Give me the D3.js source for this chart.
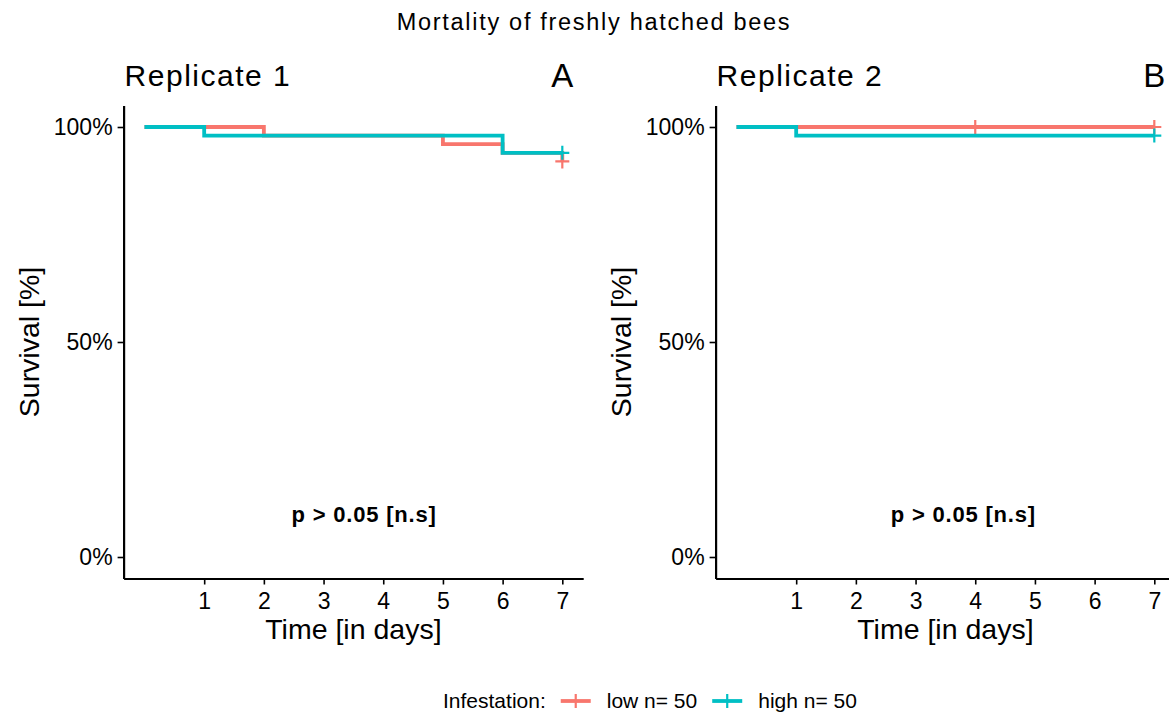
<!DOCTYPE html>
<html><head><meta charset="utf-8">
<script src="https://cdn.jsdelivr.net/npm/d3@7"></script>
<style>body{margin:0;background:#fff}svg{display:block;font-family:"Liberation Sans",Arial,sans-serif}</style>
</head><body><svg id="c" width="1169" height="713"></svg>
<script>
// ---- data ----
const chartTitle = "Mortality of freshly hatched bees";
const panelTitles = ["Replicate 1", "Replicate 2"];
const panelTags = ["A", "B"];
const dayTicks = [1, 2, 3, 4, 5, 6, 7];
const survTicks = [0, 50, 100];
const groups = ["low", "high"];
const groupLabels = ["low n= 50", "high n= 50"];
const groupColors = ["#F8766D", "#00BFC4"];
// Replicate 1 (step times / survival %)
const rep1LowTime = [0, 2, 5, 6, 7];
const rep1LowSurv = [100, 98, 96, 94, 92];
const rep1LowCensorTime = [7];
const rep1LowCensorSurv = [92];
const rep1HighTime = [0, 1, 6, 7];
const rep1HighSurv = [100, 98, 94, 94];
const rep1HighCensorTime = [7];
const rep1HighCensorSurv = [94];
// Replicate 2
const rep2LowTime = [0, 7];
const rep2LowSurv = [100, 100];
const rep2LowCensorTime = [4, 7];
const rep2LowCensorSurv = [100, 100];
const rep2HighTime = [0, 1, 7];
const rep2HighSurv = [100, 98, 98];
const rep2HighCensorTime = [7];
const rep2HighCensorSurv = [98];
const pText = "p > 0.05 [n.s]";
const pTextX = [3.68, 3.80];
const pTextY = 10;
const legendTitle = "Infestation:";

const panels = [
  {series: [
    {t: rep1LowTime, s: rep1LowSurv, ct: rep1LowCensorTime, cs: rep1LowCensorSurv},
    {t: rep1HighTime, s: rep1HighSurv, ct: rep1HighCensorTime, cs: rep1HighCensorSurv}]},
  {series: [
    {t: rep2LowTime, s: rep2LowSurv, ct: rep2LowCensorTime, cs: rep2LowCensorSurv},
    {t: rep2HighTime, s: rep2HighSurv, ct: rep2HighCensorTime, cs: rep2HighCensorSurv}]}
];

// ---- layout ----
const svg = d3.select("#c");
svg.append("rect").attr("width",1169).attr("height",713).attr("fill","#fff");
const panelLeft = [123.6, 715.6];
const panelWidth = 459.6;
const yScale = d3.scaleLinear().domain([-5, 105]).range([578.5, 105.5]);

svg.append("text").attr("x", 594).attr("y", 29.5).attr("text-anchor","middle")
  .attr("font-size", 23.5).attr("letter-spacing", 1.7).attr("fill","#000").text(chartTitle);

panels.forEach((p, i) => {
  const x = d3.scaleLinear().domain([-0.35, 7.35]).range([panelLeft[i], panelLeft[i] + panelWidth]);
  const g = svg.append("g");
  // panel title and tag
  g.append("text").attr("x", panelLeft[i] + 1).attr("y", 86).attr("font-size", 30)
    .attr("letter-spacing", 1.5).text(panelTitles[i]);
  g.append("text").attr("x", x(7) + 11).attr("y", 87).attr("font-size", 33)
    .attr("text-anchor","end").text(panelTags[i]);

  const line = d3.line().x(d => x(d[0])).y(d => yScale(d[1])).curve(d3.curveStepAfter);
  p.series.forEach((s, k) => {
    const pts = s.t.map((t, j) => [t, s.s[j]]);
    g.append("path").attr("d", line(pts)).attr("fill","none")
      .attr("stroke", groupColors[k]).attr("stroke-width", 3.8);
    s.ct.forEach((ct, j) => {
      const cx = x(ct), cy = yScale(s.cs[j]);
      g.append("path").attr("d", `M${cx-7},${cy}H${cx+7}M${cx},${cy-7}V${cy+7}`)
        .attr("stroke", groupColors[k]).attr("stroke-width", 2.2);
    });
  });

  // axes
  const ax = g.append("g").attr("transform", `translate(0,${yScale(-5)})`)
    .call(d3.axisBottom(x).tickValues(dayTicks).tickSize(6).tickSizeOuter(0).tickPadding(4).tickFormat(d3.format("d")));
  const ay = g.append("g").attr("transform", `translate(${panelLeft[i]},0)`)
    .call(d3.axisLeft(yScale).tickValues(survTicks).tickSize(6).tickSizeOuter(0).tickPadding(5).tickFormat(d => d + "%"));
  [ax, ay].forEach(a => {
    a.select(".domain").attr("stroke","#000").attr("stroke-width", 2.2);
    a.selectAll(".tick line").attr("stroke","#000").attr("stroke-width", 1.6);
    a.selectAll(".tick text").attr("fill","#000").attr("font-size", 23)
      .attr("font-family", "\"Liberation Sans\",Arial,sans-serif");
  });
  ax.selectAll(".tick text").attr("dy", "0.9em");
  // axis titles
  g.append("text").attr("x", panelLeft[i] + panelWidth/2).attr("y", 639).attr("text-anchor","middle")
    .attr("font-size", 28.5).text("Time [in days]");
  g.append("text").attr("transform", `translate(${panelLeft[i] - 85},${yScale(50)}) rotate(-90)`)
    .attr("text-anchor","middle").attr("font-size", 28.5).text("Survival [%]");
  // p value
  g.append("text").attr("x", x(pTextX[i])).attr("y", yScale(pTextY)).attr("dy","0.35em")
    .attr("text-anchor","middle").attr("font-size", 22).attr("font-weight","bold")
    .attr("letter-spacing", 0.8).text(pText);
});

// legend
const lg = svg.append("g");
let lx = 443;
const ly = 701;
const lt = lg.append("text").attr("x", lx).attr("y", ly).attr("dy","0.35em").attr("font-size", 21).text(legendTitle);
lx += lt.node().getComputedTextLength() + 15;
groups.forEach((gname, k) => {
  lg.append("path").attr("d", `M${lx},${ly}H${lx+30}`).attr("stroke", groupColors[k]).attr("stroke-width", 3.8);
  lg.append("path").attr("d", `M${lx+15},${ly-7}V${ly+7}`).attr("stroke", groupColors[k]).attr("stroke-width", 2.2);
  lx += 46;
  const t = lg.append("text").attr("x", lx).attr("y", ly).attr("dy","0.35em").attr("font-size", 21).text(groupLabels[k]);
  lx += t.node().getComputedTextLength() + 15;
});
</script></body></html>
